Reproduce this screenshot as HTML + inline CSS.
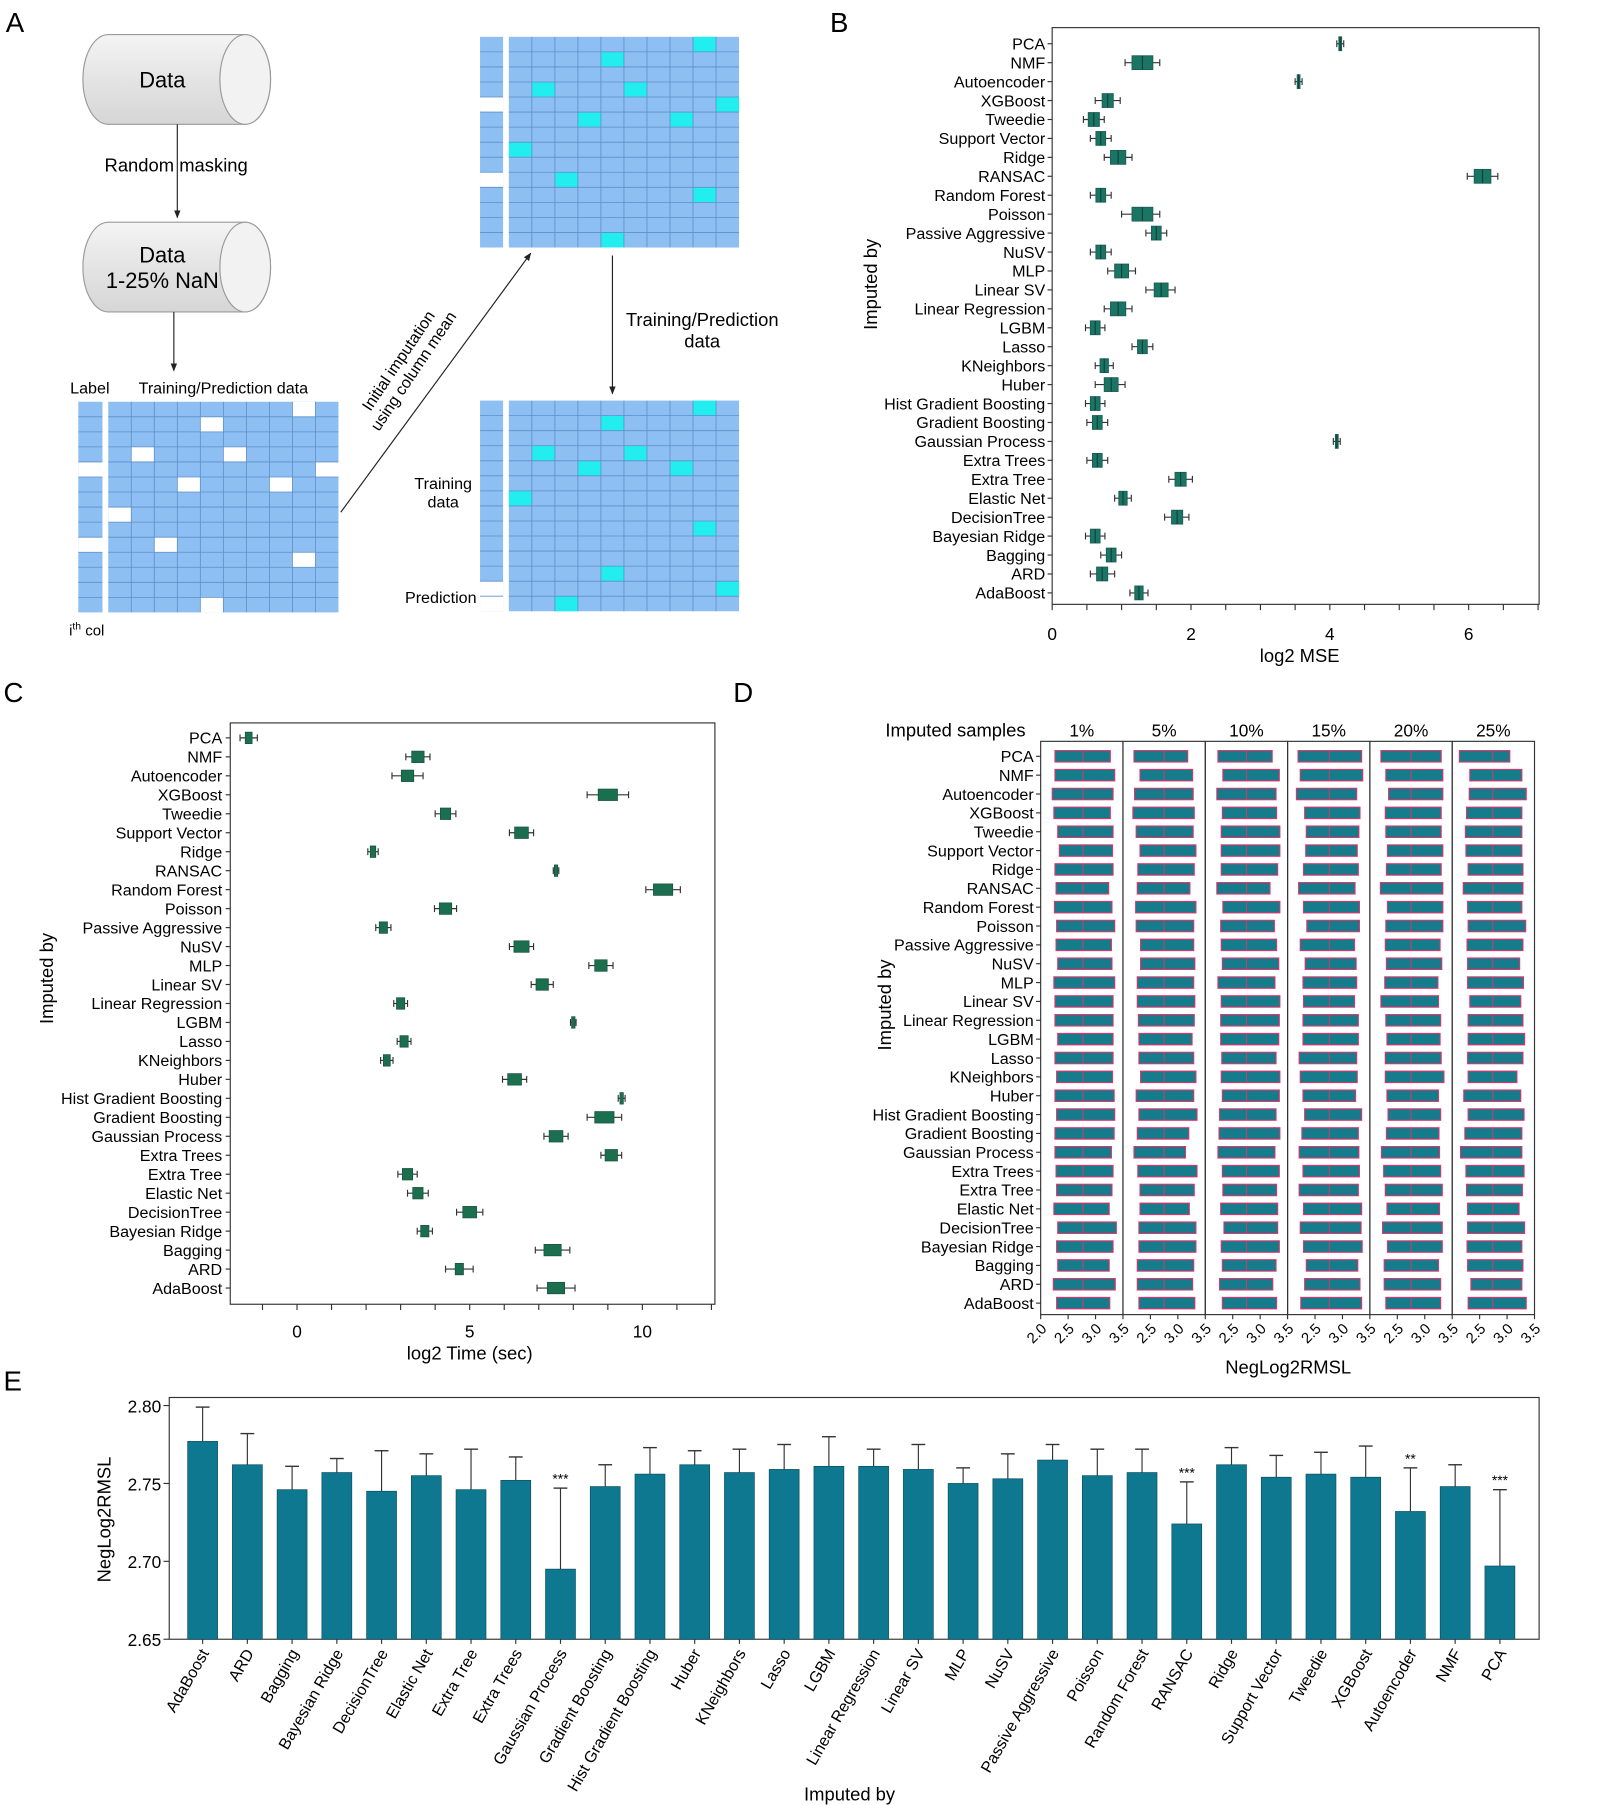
<!DOCTYPE html>
<html><head><meta charset="utf-8"><style>
html,body{margin:0;padding:0;background:#fff}
svg{display:block;font-family:"Liberation Sans",Arial,sans-serif}
</style></head><body>
<svg id="fig" xmlns="http://www.w3.org/2000/svg" width="1599" height="1805" viewBox="0 0 1389 1568">
<defs>
<linearGradient id="cyl" x1="0" y1="0" x2="0" y2="1"><stop offset="0" stop-color="#f4f4f4"/><stop offset="0.5" stop-color="#e4e4e4"/><stop offset="1" stop-color="#d6d6d6"/></linearGradient>
<marker id="ah" viewBox="0 0 10 10" refX="9" refY="5" markerWidth="7" markerHeight="7" orient="auto"><path d="M0,1 L10,5 L0,9 z" fill="#222"/></marker>
</defs>
<g id="panelA"></g>
<g id="panelB"></g>
<g id="panelC"></g>
<g id="panelD"></g>
<g id="panelE"></g>
</svg>
<script>
const methodsTop = ["PCA","NMF","Autoencoder","XGBoost","Tweedie","Support Vector","Ridge","RANSAC","Random Forest","Poisson","Passive Aggressive","NuSV","MLP","Linear SV","Linear Regression","LGBM","Lasso","KNeighbors","Huber","Hist Gradient Boosting","Gradient Boosting","Gaussian Process","Extra Trees","Extra Tree","Elastic Net","DecisionTree","Bayesian Ridge","Bagging","ARD","AdaBoost"];
// Panel B (log2 MSE)
const mseMed = [4.15,1.3,3.55,0.8,0.6,0.7,0.95,6.2,0.7,1.3,1.5,0.7,1.0,1.57,0.95,0.62,1.3,0.75,0.85,0.62,0.65,4.1,0.65,1.85,1.02,1.8,0.62,0.85,0.72,1.25];
const mseQ1 = [4.13,1.15,3.53,0.72,0.52,0.63,0.84,6.08,0.63,1.15,1.43,0.63,0.9,1.47,0.84,0.55,1.23,0.69,0.75,0.55,0.58,4.08,0.58,1.77,0.96,1.72,0.55,0.78,0.64,1.19];
const mseQ3 = [4.17,1.45,3.57,0.88,0.68,0.77,1.06,6.32,0.77,1.45,1.57,0.77,1.1,1.67,1.06,0.69,1.37,0.81,0.95,0.69,0.72,4.12,0.72,1.93,1.08,1.88,0.69,0.92,0.8,1.31];
const mseLo = [4.1,1.05,3.5,0.62,0.45,0.55,0.75,5.98,0.55,1.0,1.35,0.55,0.8,1.35,0.75,0.48,1.15,0.62,0.62,0.48,0.5,4.05,0.5,1.68,0.9,1.62,0.48,0.7,0.55,1.12];
const mseHi = [4.2,1.55,3.6,0.98,0.75,0.85,1.15,6.42,0.85,1.55,1.65,0.85,1.2,1.77,1.15,0.76,1.45,0.88,1.05,0.76,0.8,4.15,0.8,2.02,1.14,1.97,0.76,1.0,0.9,1.38];
const mseTicks = [0,2,4,6];
// Panel C (log2 time)
const timeMed = [-1.4,3.5,3.2,9.0,4.3,6.5,2.2,7.5,10.6,4.3,2.5,6.5,8.8,7.1,3.0,8.0,3.1,2.6,6.3,9.4,8.9,7.5,9.1,3.2,3.5,5.0,3.7,7.4,4.7,7.5];
const timeHalf = [0.1,0.18,0.18,0.28,0.15,0.2,0.08,0.05,0.28,0.18,0.12,0.22,0.18,0.18,0.12,0.05,0.12,0.1,0.2,0.05,0.28,0.2,0.18,0.15,0.15,0.2,0.12,0.25,0.12,0.25];
const timeWh = [0.25,0.35,0.45,0.6,0.3,0.35,0.15,0.08,0.5,0.32,0.22,0.35,0.35,0.32,0.2,0.08,0.2,0.18,0.35,0.1,0.5,0.35,0.3,0.28,0.3,0.38,0.22,0.5,0.4,0.55];
const timeTicks = [0,5,10];
// Panel D (NegLog2RMSL by imputed samples)
const facets = ["1%","5%","10%","15%","20%","25%"];
const facetMed = [2.77,2.75,2.75,2.76,2.75,2.74];
const dLo1 = [2.26,2.26,2.21,2.24,2.31,2.34,2.26,2.28,2.25,2.29,2.28,2.31,2.24,2.26,2.26,2.31,2.26,2.29,2.26,2.29,2.26,2.26,2.28,2.29,2.24,2.31,2.29,2.31,2.23,2.29];
const dHi1 = [3.27,3.35,3.32,3.27,3.32,3.31,3.32,3.24,3.30,3.35,3.29,3.30,3.35,3.32,3.32,3.32,3.32,3.31,3.34,3.35,3.34,3.29,3.32,3.30,3.25,3.38,3.32,3.25,3.36,3.26];
const dLo2 = [2.20,2.31,2.21,2.18,2.24,2.31,2.27,2.26,2.23,2.24,2.32,2.32,2.26,2.26,2.28,2.29,2.29,2.32,2.24,2.29,2.26,2.20,2.27,2.31,2.31,2.29,2.29,2.26,2.26,2.29];
const dHi2 = [3.18,3.27,3.28,3.30,3.28,3.33,3.30,3.22,3.33,3.29,3.29,3.31,3.29,3.31,3.30,3.26,3.29,3.33,3.29,3.35,3.20,3.14,3.35,3.30,3.21,3.33,3.33,3.29,3.27,3.31];
const dLo3 = [2.23,2.32,2.21,2.31,2.29,2.29,2.29,2.21,2.32,2.28,2.29,2.31,2.23,2.29,2.28,2.28,2.30,2.29,2.31,2.26,2.25,2.23,2.31,2.32,2.28,2.34,2.29,2.31,2.26,2.31];
const dHi3 = [3.22,3.35,3.29,3.30,3.36,3.36,3.32,3.18,3.36,3.26,3.30,3.34,3.27,3.36,3.35,3.34,3.29,3.36,3.35,3.29,3.36,3.27,3.35,3.30,3.32,3.32,3.35,3.29,3.23,3.30];
const dLo4 = [2.19,2.23,2.16,2.31,2.34,2.33,2.29,2.20,2.29,2.35,2.23,2.32,2.28,2.29,2.28,2.28,2.21,2.23,2.28,2.31,2.26,2.21,2.28,2.21,2.29,2.23,2.29,2.34,2.31,2.24];
const dHi4 = [3.35,3.37,3.26,3.32,3.30,3.27,3.29,3.23,3.31,3.31,3.22,3.25,3.26,3.22,3.29,3.29,3.26,3.27,3.24,3.35,3.29,3.30,3.31,3.29,3.35,3.34,3.36,3.28,3.32,3.35];
const dLo5 = [2.20,2.29,2.34,2.28,2.29,2.32,2.30,2.19,2.32,2.29,2.28,2.30,2.27,2.20,2.29,2.31,2.28,2.28,2.31,2.33,2.30,2.21,2.25,2.28,2.31,2.23,2.32,2.26,2.26,2.29];
const dHi5 = [3.30,3.33,3.33,3.30,3.30,3.33,3.30,3.33,3.33,3.33,3.28,3.31,3.24,3.25,3.29,3.28,3.30,3.35,3.25,3.29,3.26,3.27,3.29,3.32,3.27,3.32,3.32,3.25,3.29,3.29];
const dLo6 = [2.13,2.32,2.31,2.26,2.24,2.25,2.29,2.20,2.28,2.29,2.27,2.28,2.28,2.32,2.29,2.29,2.28,2.29,2.21,2.29,2.23,2.15,2.25,2.26,2.28,2.28,2.27,2.28,2.34,2.29];
const dHi6 = [3.05,3.27,3.35,3.27,3.27,3.27,3.29,3.29,3.27,3.34,3.29,3.23,3.30,3.25,3.29,3.32,3.29,3.18,3.25,3.31,3.27,3.27,3.31,3.28,3.22,3.32,3.27,3.29,3.27,3.35];
const dTicksFirst = ["2.0","2.5","3.0","3.5"];
const dTicks = ["2.5","3.0","3.5"];
// Panel E
const eCats = ["AdaBoost","ARD","Bagging","Bayesian Ridge","DecisionTree","Elastic Net","Extra Tree","Extra Trees","Gaussian Process","Gradient Boosting","Hist Gradient Boosting","Huber","KNeighbors","Lasso","LGBM","Linear Regression","Linear SV","MLP","NuSV","Passive Aggressive","Poisson","Random Forest","RANSAC","Ridge","Support Vector","Tweedie","XGBoost","Autoencoder","NMF","PCA"];
const eVals = [2.777,2.762,2.746,2.757,2.745,2.755,2.746,2.752,2.695,2.748,2.756,2.762,2.757,2.759,2.761,2.761,2.759,2.750,2.753,2.765,2.755,2.757,2.724,2.762,2.754,2.756,2.754,2.732,2.748,2.697];
const eErr = [2.799,2.782,2.761,2.766,2.771,2.769,2.772,2.767,2.747,2.762,2.773,2.771,2.772,2.775,2.780,2.772,2.775,2.760,2.769,2.775,2.772,2.772,2.751,2.773,2.768,2.770,2.774,2.760,2.762,2.746];
const eSig = ["","","","","","","","","***","","","","","","","","","","","","","","***","","","","","**","","***"];
const eTicks = [2.65,2.70,2.75,2.80];

const NS="http://www.w3.org/2000/svg";
function mk(tag,attrs,parent,txt){const e=document.createElementNS(NS,tag);for(const k in attrs)e.setAttribute(k,attrs[k]);if(txt!==undefined)e.textContent=txt;parent.appendChild(e);return e;}

/* ---------- Panel A ---------- */
const A=document.getElementById('panelA');
let t=mk('text',{x:5,y:28,'font-size':24},A,'A');


function cylinder(x,y,w,h,name){
  const g=mk('g',{},A);
  
  
  const rx=22,ry=h/2,r=x+w-rx;
  mk('path',{d:`M${x+rx},${y} L${r},${y} A${rx},${ry} 0 0 1 ${r},${y+h} L${x+rx},${y+h} A${rx},${ry} 0 0 1 ${x+rx},${y} z`,fill:'url(#cyl)',stroke:'#9a9a9a','stroke-width':1},g);
  mk('ellipse',{cx:r,cy:y+ry,rx:rx,ry:ry,fill:'#f2f2f2',stroke:'#9a9a9a','stroke-width':1},g);
  return g;
}
cylinder(72,30,163,78,'data-cylinder');
t=mk('text',{x:141,y:76,'font-size':19,'text-anchor':'middle'},A,'Data');


cylinder(72,193,163,78,'masked-data-cylinder');
t=mk('text',{x:141,y:228,'font-size':19,'text-anchor':'middle'},A,'Data');


t=mk('text',{x:141,y:250,'font-size':19,'text-anchor':'middle'},A,'1-25% NaN');


mk('line',{x1:154,y1:108,x2:154,y2:189,stroke:'#222','stroke-width':1,'marker-end':'url(#ah)'},A);
t=mk('text',{x:153,y:149,'font-size':16,'text-anchor':'middle'},A,'Random masking');


mk('line',{x1:151,y1:271,x2:151,y2:322,stroke:'#222','stroke-width':1,'marker-end':'url(#ah)'},A);
t=mk('text',{x:78,y:342,'font-size':14,'text-anchor':'middle'},A,'Label');


t=mk('text',{x:194,y:342,'font-size':14,'text-anchor':'middle'},A,'Training/Prediction data');


t=mk('text',{x:60,y:552,'font-size':13},A);


t.innerHTML='i<tspan font-size="9" dy="-5">th</tspan><tspan dy="5"> col</tspan>';

function grid(x,y,w,h,cols,rows,special,color,name){
  const g=mk('g',{},A);
  
  
  const cw=w/cols,rh=h/rows;
  mk('rect',{x:x,y:y,width:w,height:h,fill:'#8dbff2'},g);
  special.forEach(s=>mk('rect',{x:x+s[0]*cw,y:y+s[1]*rh,width:cw,height:rh,fill:color},g));
  for(let c=1;c<cols;c++)mk('line',{x1:x+c*cw,y1:y,x2:x+c*cw,y2:y+h,stroke:'#5d8fc9','stroke-width':0.7},g);
  for(let r=1;r<rows;r++)mk('line',{x1:x,y1:y+r*rh,x2:x+w,y2:y+r*rh,stroke:'#5d8fc9','stroke-width':0.7},g);
}
grid(68,349,21,183,1,14,[[0,4],[0,9]],'#ffffff','masked-label-column');
grid(94,349,200,183,10,14,[[8,0],[4,1],[1,3],[5,3],[9,4],[3,5],[7,5],[0,7],[2,9],[8,10],[4,13]],'#ffffff','masked-data-grid');
grid(417,32,20,183,1,14,[[0,4],[0,9]],'#ffffff','imputed-label-column');
grid(442,32,200,183,10,14,[[8,0],[4,1],[1,3],[5,3],[9,4],[3,5],[7,5],[0,7],[2,9],[8,10],[4,13]],'#22eef0','imputed-data-grid');
grid(417,348,20,183,1,14,[[0,12],[0,13]],'#ffffff','split-label-column');
grid(442,348,200,183,10,14,[[8,0],[4,1],[1,3],[5,3],[3,4],[7,4],[0,6],[8,8],[4,11],[9,12],[2,13]],'#22eef0','split-data-grid');
mk('line',{x1:296,y1:445,x2:461,y2:220,stroke:'#222','stroke-width':1,'marker-end':'url(#ah)'},A);
t=mk('text',{x:0,y:0,'font-size':14,'text-anchor':'middle',transform:'translate(350,316) rotate(-56)'},A,'Initial imputation');


t=mk('text',{x:0,y:0,'font-size':14,'text-anchor':'middle',transform:'translate(363,325) rotate(-56)'},A,'using column mean');


mk('line',{x1:532,y1:222,x2:532,y2:342,stroke:'#222','stroke-width':1,'marker-end':'url(#ah)'},A);
t=mk('text',{x:610,y:283,'font-size':16,'text-anchor':'middle'},A,'Training/Prediction');


t=mk('text',{x:610,y:302,'font-size':16,'text-anchor':'middle'},A,'data');


t=mk('text',{x:385,y:425,'font-size':14,'text-anchor':'middle'},A,'Training');


t=mk('text',{x:385,y:441,'font-size':14,'text-anchor':'middle'},A,'data');


t=mk('text',{x:414,y:524,'font-size':14,'text-anchor':'end'},A,'Prediction');



/* ---------- Panel B ---------- */
const B=document.getElementById('panelB');
t=mk('text',{x:721,y:28,'font-size':24},B,'B');


(function(){
  const x0=914,x1=1337,y0=24,y1=525;
  const sx=v=>x0+v*60.3;
  const sy=i=>38+i*16.45;
  let r=mk('rect',{x:x0,y:y0,width:x1-x0,height:y1-y0,fill:'none',stroke:'#333','stroke-width':1},B);
  
  
  for(let v=0;v<=7.01;v+=0.5){mk('line',{x1:sx(v),y1:y1,x2:sx(v),y2:y1+5,stroke:'#333','stroke-width':1},B);}
  mseTicks.forEach(v=>{const tt=mk('text',{x:sx(v),y:y1+31,'font-size':15,'text-anchor':'middle'},B,String(v));
    
    });
  let tt=mk('text',{x:1129,y:575,'font-size':16,'text-anchor':'middle'},B,'log2 MSE');
  
  
  tt=mk('text',{x:0,y:0,'font-size':16,'text-anchor':'middle',transform:'translate(762,247) rotate(-90)'},B,'Imputed by');
  
  
  methodsTop.forEach((m,i)=>{
    const y=sy(i);
    mk('line',{x1:x0-4,y1:y,x2:x0,y2:y,stroke:'#333'},B);
    const l=mk('text',{x:x0-6,y:y+5,'font-size':14,'text-anchor':'end'},B,m);
    
    
    const g=mk('g',{},B);
    
    
    mk('line',{x1:sx(mseLo[i]),y1:y,x2:sx(mseHi[i]),y2:y,stroke:'#333','stroke-width':1},g);
    mk('line',{x1:sx(mseLo[i]),y1:y-3,x2:sx(mseLo[i]),y2:y+3,stroke:'#333'},g);
    mk('line',{x1:sx(mseHi[i]),y1:y-3,x2:sx(mseHi[i]),y2:y+3,stroke:'#333'},g);
    mk('rect',{x:sx(mseQ1[i]),y:y-6,width:sx(mseQ3[i])-sx(mseQ1[i]),height:12,fill:'#1b7564',stroke:'#1b5e55','stroke-width':0.8},g);
    mk('line',{x1:sx(mseMed[i]),y1:y-6,x2:sx(mseMed[i]),y2:y+6,stroke:'#123f3a','stroke-width':1},g);
  });
})();

/* ---------- Panel C ---------- */
const C=document.getElementById('panelC');
t=mk('text',{x:3,y:610,'font-size':24},C,'C');


(function(){
  const x0=200,x1=621,y0=628,y1=1133;
  const sx=v=>258+v*30;
  const sy=i=>641+i*16.48;
  let r=mk('rect',{x:x0,y:y0,width:x1-x0,height:y1-y0,fill:'none',stroke:'#333','stroke-width':1},C);
  
  
  for(let v=-1;v<=12;v++){mk('line',{x1:sx(v),y1:y1,x2:sx(v),y2:y1+5,stroke:'#333','stroke-width':1},C);}
  timeTicks.forEach(v=>{const tt=mk('text',{x:sx(v),y:y1+29,'font-size':15,'text-anchor':'middle'},C,String(v));
    
    });
  let tt=mk('text',{x:408,y:1181,'font-size':16,'text-anchor':'middle'},C,'log2 Time (sec)');
  
  
  tt=mk('text',{x:0,y:0,'font-size':16,'text-anchor':'middle',transform:'translate(46,850) rotate(-90)'},C,'Imputed by');
  
  
  methodsTop.forEach((m,i)=>{
    const y=sy(i);
    mk('line',{x1:x0-4,y1:y,x2:x0,y2:y,stroke:'#333'},C);
    const l=mk('text',{x:x0-7,y:y+5,'font-size':14,'text-anchor':'end'},C,m);
    
    
    const g=mk('g',{},C);
    
    
    const lo=timeMed[i]-timeWh[i],hi=timeMed[i]+timeWh[i];
    mk('line',{x1:sx(lo),y1:y,x2:sx(hi),y2:y,stroke:'#333'},g);
    mk('line',{x1:sx(lo),y1:y-3,x2:sx(lo),y2:y+3,stroke:'#333'},g);
    mk('line',{x1:sx(hi),y1:y-3,x2:sx(hi),y2:y+3,stroke:'#333'},g);
    mk('rect',{x:sx(timeMed[i]-timeHalf[i]),y:y-5,width:Math.max(1.5,sx(timeMed[i]+timeHalf[i])-sx(timeMed[i]-timeHalf[i])),height:10,fill:'#1b6e4e',stroke:'#174f3e','stroke-width':0.6},g);
  });
})();

/* ---------- Panel D ---------- */
const D=document.getElementById('panelD');
t=mk('text',{x:637,y:610,'font-size':24},D,'D');


(function(){
  const lows=[dLo1,dLo2,dLo3,dLo4,dLo5,dLo6], highs=[dHi1,dHi2,dHi3,dHi4,dHi5,dHi6];
  const left=904,fw=71.5,y0=644,y1=1142;
  const sy=i=>657+i*16.38;
  let tt=mk('text',{x:830,y:640,'font-size':16,'text-anchor':'middle'},D,'Imputed samples');
  
  
  tt=mk('text',{x:1119,y:1193,'font-size':16,'text-anchor':'middle'},D,'NegLog2RMSL');
  
  
  tt=mk('text',{x:0,y:0,'font-size':16,'text-anchor':'middle',transform:'translate(774,873) rotate(-90)'},D,'Imputed by');
  
  
  methodsTop.forEach((m,i)=>{
    const y=sy(i);
    mk('line',{x1:left-4,y1:y,x2:left,y2:y,stroke:'#333'},D);
    const l=mk('text',{x:left-6,y:y+5,'font-size':14,'text-anchor':'end'},D,m);
    
    
  });
  facets.forEach((f,k)=>{
    const fx=left+k*fw;
    const sx=v=>fx+(v-2)/1.5*fw;
    const g=mk('g',{},D);
    
    
    mk('rect',{x:fx,y:y0,width:fw,height:y1-y0,fill:'none',stroke:'#333','stroke-width':1},g);
    const h=mk('text',{x:fx+fw/2,y:640,'font-size':15,'text-anchor':'middle'},g,f);
    
    
    methodsTop.forEach((m,i)=>{
      const y=sy(i);
      const b=mk('rect',{x:sx(lows[k][i]),y:y-5,width:sx(highs[k][i])-sx(lows[k][i]),height:10,fill:'#167c8c',stroke:'#e8306a','stroke-width':0.9},g);
      
      
      mk('line',{x1:sx(facetMed[k]),y1:y-5,x2:sx(facetMed[k]),y2:y+5,stroke:'#d83a6a','stroke-width':0.8},g);
    });
    const labs=k===0?dTicksFirst:dTicks;
    labs.forEach(s=>{
      const v=parseFloat(s),x=sx(v);
      mk('line',{x1:x,y1:y1,x2:x,y2:y1+4,stroke:'#333'},g);
      const tl=mk('text',{x:0,y:0,'font-size':13,'text-anchor':'end',transform:`translate(${x+6},${y1+13}) rotate(-45)`},g,s);
      
      
    });
  });
})();

/* ---------- Panel E ---------- */
const E=document.getElementById('panelE');
t=mk('text',{x:3,y:1208,'font-size':24},E,'E');


(function(){
  const x0=147,x1=1337,y0=1214,y1=1424;
  const sy=v=>1424-(v-2.65)/0.15*203;
  const sx=i=>176+i*38.86;
  const bw=26;
  let r=mk('rect',{x:x0,y:y0,width:x1-x0,height:y1-y0,fill:'none',stroke:'#333','stroke-width':1},E);
  
  
  eTicks.forEach(v=>{
    mk('line',{x1:x0-5,y1:sy(v),x2:x0,y2:sy(v),stroke:'#333'},E);
    const tl=mk('text',{x:x0-7,y:sy(v)+6,'font-size':15,'text-anchor':'end'},E,v.toFixed(2));
    
    
  });
  let tt=mk('text',{x:0,y:0,'font-size':16,'text-anchor':'middle',transform:'translate(96,1320) rotate(-90)'},E,'NegLog2RMSL');
  
  
  tt=mk('text',{x:738,y:1564,'font-size':16,'text-anchor':'middle'},E,'Imputed by');
  
  
  eCats.forEach((c,i)=>{
    const cx=sx(i);
    const g=mk('g',{},E);
    
    
    mk('line',{x1:cx,y1:sy(eVals[i]),x2:cx,y2:sy(eErr[i]),stroke:'#333','stroke-width':1},g);
    mk('line',{x1:cx-6,y1:sy(eErr[i]),x2:cx+6,y2:sy(eErr[i]),stroke:'#333','stroke-width':1.2},g);
    mk('rect',{x:cx-bw/2,y:sy(eVals[i]),width:bw,height:y1-sy(eVals[i]),fill:'#0f7891',stroke:'#0b4f60','stroke-width':0.6},g);
    if(eSig[i]){const s=mk('text',{x:cx,y:sy(eErr[i])-4,'font-size':12,'text-anchor':'middle'},g,eSig[i]);
      
      }
    mk('line',{x1:cx,y1:y1,x2:cx,y2:y1+4,stroke:'#333'},E);
    const tl=mk('text',{x:0,y:0,'font-size':14,'text-anchor':'end',transform:`translate(${cx+6},${y1+12}) rotate(-60)`},E,c);
    
    
  });
})();
</script>
</body></html>
